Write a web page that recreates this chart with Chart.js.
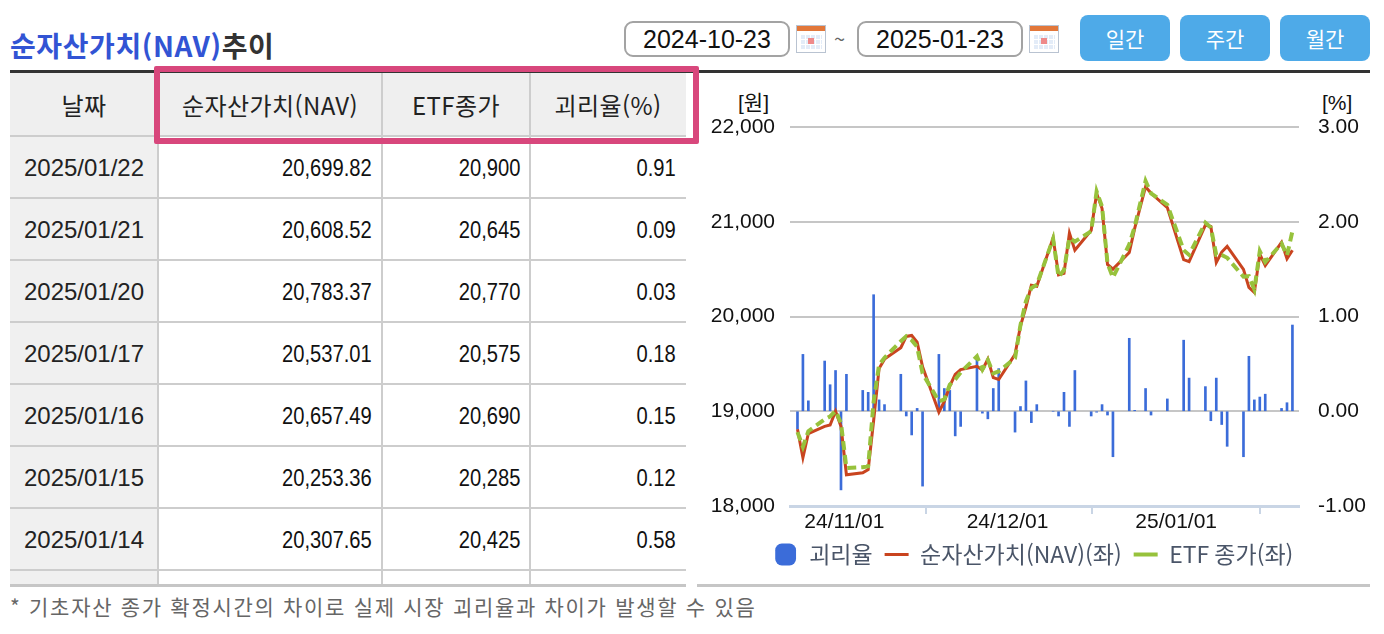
<!DOCTYPE html>
<html lang="ko">
<head>
<meta charset="utf-8">
<title>순자산가치(NAV)추이</title>
<script src="https://cdn.jsdelivr.net/npm/chart.js@4.4.1/dist/chart.umd.min.js"></script>
<style>
  html, body { margin: 0; padding: 0; background: #fff; }
  body { width: 1384px; height: 634px; position: relative; overflow: hidden; font-family: 'Noto Sans CJK KR', sans-serif; color: #222; }
  .abs { position: absolute; }
  .title { left: 10px; top: 25px; font-size: 28px; font-weight: 700; color: #333; line-height: 40px; letter-spacing: 0.6px; white-space: nowrap; }
  .title .blue { color: #3254d4; }
  .datebox { top: 21px; width: 162px; height: 32px; border: 2px solid #a3a3a3; border-radius: 9px; font-family: 'Liberation Sans', Arial, sans-serif; font-size: 25px; line-height: 33px; text-align: center; color: #111; }
  .cal { top: 25px; width: 28px; height: 26px; border: 1px solid #b9c3d1; background: #fff; }
  .cal .top { position: absolute; left: 0; top: 0; width: 28px; height: 5px; background: #e2773a; }
  .cal .grid { position: absolute; left: 3px; top: 8px; width: 22px; height: 15px; background: #e3ecf8;
    background-image: linear-gradient(#fff 1px, transparent 1px), linear-gradient(90deg, #fff 1px, transparent 1px);
    background-size: 5px 5px; }
  .cal .dot { position: absolute; left: 11px; top: 12px; width: 6px; height: 6px; background: #ef8a8a; }
  .tilde { left: 834px; top: 24px; font-size: 20px; color: #666; line-height: 30px; }
  .btn { top: 15px; width: 90px; height: 46px; border-radius: 8px; background: #4eaae8; color: #fff; font-size: 21px; line-height: 46px; text-align: center; }
  .topline { left: 10px; top: 70px; width: 1360px; height: 3px; background: #333; }
  .cell { position: absolute; white-space: nowrap; box-sizing: border-box; }
  .head { font-size: 24px; letter-spacing: 0.4px; text-align: center; color: #222; }
  .dcell { font-family: 'Liberation Sans', Arial, sans-serif; font-size: 24px; text-align: center; color: #222; }
  .vcell { font-family: 'Liberation Sans', Arial, sans-serif; font-size: 24px; text-align: right; padding-right: 10px; color: #111; }
  .vcell span { display: inline-block; transform: scaleX(0.84); transform-origin: 100% 50%; }
  .hline { position: absolute; height: 2px; background: #cdcdcd; }
  .vline { position: absolute; width: 2px; background: #cdcdcd; }
  .pink { left: 154px; top: 66px; width: 533px; height: 66px; border: 6px solid #d8477c; border-radius: 2px; }
  .unit { top: 88px; font-family: 'Liberation Sans', 'Noto Sans CJK KR', sans-serif; font-size: 21px; color: #111; line-height: 30px; }
  .foot { left: 10px; top: 592px; font-size: 21px; letter-spacing: 1.7px; color: #666; line-height: 28px; white-space: nowrap; }
  #chartBox { left: 697px; top: 75px; width: 673px; height: 508px; }
</style>
</head>
<body>
<div class="abs title"><span class="blue">순자산가치(NAV)</span>추이</div>

<div class="abs datebox" style="left:624px">2024-10-23</div>
<div class="abs cal" style="left:796px"><div class="top"></div><div class="grid"></div><div class="dot"></div></div>
<div class="abs tilde">~</div>
<div class="abs datebox" style="left:857px">2025-01-23</div>
<div class="abs cal" style="left:1029px"><div class="top"></div><div class="grid"></div><div class="dot"></div></div>
<div class="abs btn" style="left:1080px">일간</div>
<div class="abs btn" style="left:1180px">주간</div>
<div class="abs btn" style="left:1280px">월간</div>

<div class="abs topline"></div>
<div id="table"></div>
<div class="abs pink"></div>

<div class="abs unit" style="left:738px">[원]</div>
<div class="abs unit" style="left:1322px">[%]</div>
<div class="abs" id="chartBox"><canvas id="navChart"></canvas></div>
<div class="abs" style="left:697px;top:584px;width:673px;height:3px;background:#c6c6c6"></div>

<div class="abs foot">* 기초자산 종가 확정시간의 차이로 실제 시장 괴리율과 차이가 발생할 수 있음</div>

<script>
const dates = [
  '2024-10-23', '2024-10-24', '2024-10-25', '2024-10-28', '2024-10-29', '2024-10-30', '2024-10-31',
  '2024-11-01', '2024-11-04', '2024-11-05', '2024-11-06', '2024-11-07', '2024-11-08',
  '2024-11-11', '2024-11-12', '2024-11-13', '2024-11-14', '2024-11-15',
  '2024-11-18', '2024-11-19', '2024-11-20', '2024-11-21', '2024-11-22',
  '2024-11-25', '2024-11-26', '2024-11-27', '2024-11-28', '2024-11-29',
  '2024-12-02', '2024-12-03', '2024-12-04', '2024-12-05', '2024-12-06',
  '2024-12-09', '2024-12-10', '2024-12-11', '2024-12-12', '2024-12-13',
  '2024-12-16', '2024-12-17', '2024-12-18', '2024-12-19', '2024-12-20',
  '2024-12-23', '2024-12-24', '2024-12-26', '2024-12-27', '2024-12-30',
  '2025-01-02', '2025-01-03', '2025-01-06', '2025-01-07', '2025-01-08', '2025-01-09', '2025-01-10',
  '2025-01-13', '2025-01-14', '2025-01-15', '2025-01-16', '2025-01-17',
  '2025-01-20', '2025-01-21', '2025-01-22'
];

const navValues = [
  18810, 18510, 18765, 18840, 18855, 19000, 18840,
  18330, 18350, 18385, 18900, 19450, 19550,
  19670, 19790, 19800, 19730, 19470,
  18990, 19105, 19265, 19390, 19440,
  19475, 19435, 19550, 19355, 19335,
  19600, 19900, 20100, 20330, 20320,
  20830, 20440, 20455, 20880, 20700,
  20910, 21300, 21140, 20550, 20500,
  20675, 20930, 21370, 21300, 21150,
  20600, 20580, 20965, 20950, 20570, 20680, 20740,
  20497, 20307.65, 20253.36, 20657.49, 20537.01,
  20783.37, 20608.52, 20699.82
];

const etfValues = [
  18780, 18625, 18790, 18915, 18945, 19005, 18875,
  18400, 18410, 18420, 19100, 19490, 19565,
  19740, 19790, 19750, 19680, 19400,
  19105, 19125, 19280, 19335, 19410,
  19580, 19440, 19540, 19400, 19420,
  19560, 19910, 20160, 20300, 20335,
  20820, 20420, 20490, 20830, 20790,
  20900, 21320, 21160, 20560, 20410,
  20760, 20950, 21430, 21300, 21180,
  20700, 20650, 20990, 20940, 20650, 20650, 20620,
  20420, 20425, 20285, 20690, 20575,
  20770, 20645, 20900
];

const premiumValues = [
  -0.19, 0.60, 0.11, 0.53, 0.28, 0.43, -0.83,
  0.39, 0.22, 0.20, 1.23, 0.12, 0.07,
  0.39, -0.05, -0.25, 0.03, -0.79,
  0.60, 0.24, 0.22, -0.26, -0.16,
  0.55, -0.02, -0.08, 0.24, 0.45,
  -0.22, 0.05, 0.32, -0.12, 0.07,
  0.00, -0.05, 0.20, -0.16, 0.43,
  -0.05, -0.01, 0.07, -0.04, -0.48,
  0.77, 0.01, 0.24, -0.04, 0.13,
  0.75, 0.35, 0.26, -0.10, 0.35, -0.14, -0.37,
  -0.48, 0.58, 0.12, 0.15, 0.18,
  0.03, 0.09, 0.91
];

const xTickDates = ['2024-11-01', '2024-12-01', '2025-01-01'];
const xTickLabels = ['24/11/01', '24/12/01', '25/01/01'];
const leftTicks = [18000, 19000, 20000, 21000, 22000];
const rightTicks = [-1, 0, 1, 2, 3];

const tableHead = ['날짜', '순자산가치(NAV)', 'ETF종가', '괴리율(%)'];
const tableRowCount = 7;

// ---- table ----
const table = document.getElementById('table');
const colLeft = [10, 158, 382, 530];
const colWidth = [148, 224, 148, 156];
const headTop = 73, headH = 63, rowH = 62;

function addDiv(cls, style, text, wrap) {
  const d = document.createElement('div');
  d.className = cls;
  Object.assign(d.style, style);
  if (text !== undefined) {
    if (wrap) {
      const s = document.createElement('span');
      s.textContent = text;
      d.appendChild(s);
    } else {
      d.textContent = text;
    }
  }
  table.appendChild(d);
  return d;
}

addDiv('cell', { left: '10px', top: headTop + 'px', width: '676px', height: headH + 'px', background: '#efefef' });
addDiv('cell', { left: '10px', top: (headTop + headH) + 'px', width: '148px', height: '449px', background: '#f0f0f0' });

tableHead.forEach((h, c) => {
  addDiv('cell head', { left: colLeft[c] + 'px', top: headTop + 'px', width: colWidth[c] + 'px', height: headH + 'px', lineHeight: headH + 'px' }, h);
});

const fmtNav = v => v.toLocaleString('en-US', { minimumFractionDigits: 2, maximumFractionDigits: 2 });
const fmtEtf = v => v.toLocaleString('en-US');
for (let r = 0; r < tableRowCount; r++) {
  const i = dates.length - 1 - r;
  const top = headTop + headH + r * rowH;
  const texts = [dates[i].replace(/-/g, '/'), fmtNav(navValues[i]), fmtEtf(etfValues[i]), premiumValues[i].toFixed(2)];
  texts.forEach((t, c) => {
    addDiv('cell ' + (c === 0 ? 'dcell' : 'vcell'), { left: colLeft[c] + 'px', top: top + 'px', width: colWidth[c] + 'px', height: rowH + 'px', lineHeight: (rowH + 2) + 'px' }, t, c > 0);
  });
}
for (let r = 0; r <= tableRowCount; r++) {
  addDiv('hline', { left: '10px', top: (headTop + headH - 1 + r * rowH) + 'px', width: '676px' });
}
[158, 382, 530].forEach(x => addDiv('vline', { left: (x - 1) + 'px', top: headTop + 'px', height: '512px' }));
addDiv('cell', { left: '10px', top: '584px', width: '676px', height: '3px', background: '#c6c6c6' });

// ---- chart ----
const KST = 9 * 3600 * 1000;
const toTime = s => { const p = s.split('-').map(Number); return Date.UTC(p[0], p[1] - 1, p[2]); };

const premiumPoints = dates.map((d, i) => ({ x: toTime(d), y: premiumValues[i] }));
const navPoints = dates.map((d, i) => ({ x: toTime(d), y: navValues[i] }));
const etfPoints = dates.map((d, i) => ({ x: toTime(d), y: etfValues[i] }));

Chart.defaults.font.family = "'Liberation Sans', Arial, sans-serif";
Chart.defaults.color = '#111';

const tickFont = { size: 21, lineHeight: 1 };

new Chart(document.getElementById('navChart'), {
  type: 'line',
  data: {
    datasets: [
      {
        type: 'bar',
        label: '괴리율',
        data: premiumPoints,
        yAxisID: 'y1',
        backgroundColor: '#3b6cd9',
        borderWidth: 0,
        barThickness: 2,
        order: 3
      },
      {
        label: '순자산가치(NAV)(좌)',
        data: navPoints,
        yAxisID: 'y',
        borderColor: '#c9441f',
        backgroundColor: '#c9441f',
        borderWidth: 3,
        pointRadius: 0,
        tension: 0,
        fill: false,
        order: 2
      },
      {
        label: 'ETF 종가(좌)',
        data: etfPoints,
        yAxisID: 'y',
        borderColor: '#97c23c',
        backgroundColor: '#97c23c',
        borderWidth: 4,
        borderDash: [9, 5],
        pointRadius: 0,
        tension: 0,
        fill: false,
        order: 1
      }
    ]
  },
  options: {
    responsive: true,
    maintainAspectRatio: false,
    animation: false,
    layout: { padding: { top: 52, bottom: 7, left: 0, right: 0 } },
    plugins: {
      tooltip: { enabled: false },
      legend: {
        position: 'bottom',
        labels: {
          usePointStyle: true,
          pointStyleWidth: 24,
          boxHeight: 18,
          padding: 12,
          color: '#4a5568',
          font: { family: "'Noto Sans CJK KR', sans-serif", size: 23 },
          generateLabels: chart => {
            const items = Chart.defaults.plugins.legend.labels.generateLabels(chart);
            items.forEach(it => { it.pointStyle = it.datasetIndex === 0 ? 'rectRounded' : 'line'; });
            return items.sort((a, b) => a.datasetIndex - b.datasetIndex);
          }
        }
      }
    },
    scales: {
      x: {
        type: 'linear',
        offset: false,
        min: toTime('2024-10-22') - KST,
        max: toTime('2025-01-23') + 5 * 3600 * 1000,
        afterBuildTicks: s => { s.ticks = xTickDates.map(d => ({ value: toTime(d) - KST })); },
        afterFit: s => { s.height = 25; },
        grid: { drawOnChartArea: false, drawTicks: true, tickLength: 8, color: '#c9d5e5', lineWidth: 2 },
        border: { display: true, color: '#c9d5e5', width: 3 },
        ticks: {
          autoSkip: false,
          maxRotation: 0,
          padding: -2,
          font: tickFont,
          callback: (v, i) => xTickLabels[i]
        }
      },
      y: {
        position: 'left',
        min: 18000,
        max: 22000,
        afterBuildTicks: s => { s.ticks = leftTicks.map(v => ({ value: v })); },
        afterFit: s => { s.width = 93; },
        border: { display: false },
        grid: {
          drawTicks: false,
          lineWidth: 2,
          color: c => (c.tick && c.tick.value === 18000 ? 'rgba(0,0,0,0)' : '#c6c6c6')
        },
        ticks: {
          padding: 15,
          font: tickFont,
          callback: v => v.toLocaleString('en-US')
        }
      },
      y1: {
        position: 'right',
        min: -1,
        max: 3,
        afterBuildTicks: s => { s.ticks = rightTicks.map(v => ({ value: v })); },
        afterFit: s => { s.width = 71; },
        border: { display: false },
        grid: { drawOnChartArea: false, drawTicks: false },
        ticks: {
          padding: 19,
          font: tickFont,
          callback: v => v.toFixed(2)
        }
      }
    }
  }
});
</script>
</body>
</html>
